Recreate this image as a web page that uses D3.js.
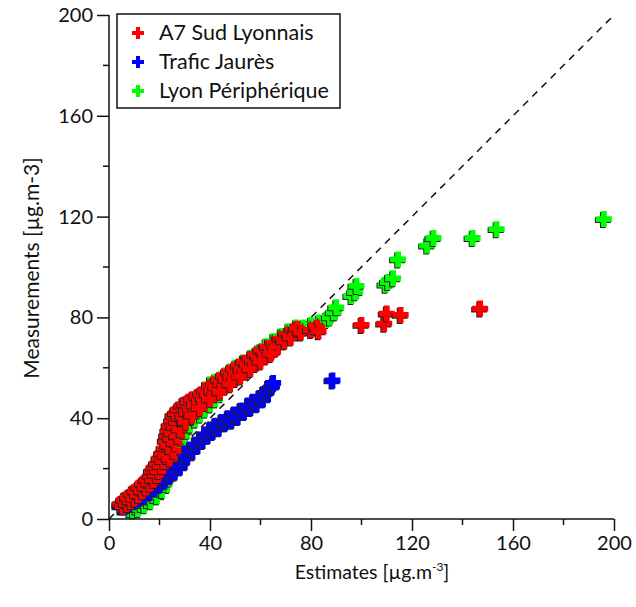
<!DOCTYPE html>
<html><head><meta charset="utf-8">
<script src="https://cdn.jsdelivr.net/npm/d3@7"></script>
<style>body{margin:0;background:#fff}svg{display:block}text{font-family:Lato,"Open Sans",sans-serif;fill:#111}</style>
</head><body>
<svg id="chart" width="636" height="607"></svg>
<script>
const seriesNames = ["A7 Sud Lyonnais", "Trafic Jaurès", "Lyon Périphérique"];
const seriesColors = ["#ff0000", "#0000ff", "#00ff00"];
const xTicks = [0, 40, 80, 120, 160, 200];
const yTicks = [0, 40, 80, 120, 160, 200];
const minorTicks = [20, 60, 100, 140, 180];

const a7Sud = [[4.5,6],[5.5,5],[6,7.5],[7,6],[7.5,8.5],[8.5,7],[9,10],[10,8],[10.5,11],[11.5,9.5],[12,12.5],[13,11],[13.5,14],[14.5,12.5],[15,15.5],[16,14],[16.5,17],[17,19],[17.5,15.5],[18,20.5],[18.5,17.5],[19,22],[19.5,19],[20,24],[20.5,21],[21,26],[21.5,23],[22,28],[22.5,25],[22.5,31],[23,33],[23.5,29],[23.5,35],[24,37],[24,24],[24.5,32],[25,39],[25,34],[25.5,27],[25.5,41],[26,30],[26,36.5],[26.5,42],[27,33],[27,38.5],[27.5,43.5],[28,35.5],[28,40],
[29,45],[30,45.5],[31.5,46.5],[33,47.5],[35,48.5],[36.5,49.5],[38,51],[40,52.5],[41.5,53.5],[43.5,55],[45.5,56.5],[47.5,58],[49.5,59],[51.5,60.5],[53.5,62],[56,63.5],[58,65],[60.5,66.5],[63,68],[65.5,69.5],[68,71.5],[70.5,73],[73,74.5],
[29.5,40.5],[31,42],[32.5,43.5],[34,45],[36,46.5],[37.5,48],[39,49.5],[41,50.5],[42.5,52],[44.5,53.5],[46.5,55],[48.5,56],[50.5,57.5],[52.5,59],[55,60.5],[57,62],[59.5,63.5],[62,65],[64.5,66.5],[67,68.5],[69.5,70.5],[72,72],
[30.5,38.5],[33,41],[36,44],[40,47.5],[44,50.5],[48,53.5],[52,56.5],[56,59.5],[60,62.5],[64,65.5],
[74.5,75.5],[76,74],[80,75],[82.5,76],[83,74.5],[100,77],[109,77.5],[110,81.5],[115.5,81],[147,83.5]];

const traficJaures = [[4.5,5],[5.5,6.5],[6.5,5],[7,7],[8,6],[9,8],[10,7],[11,9],[12,8],[13,10],[14,9],[15,11.5],[16,10.5],[17,13],[18,12],[19,14.5],[20,13.5],[21,16],[22,15],[23,18],[24,17],[25,19.5],[26,18.5],[27,21.5],[28,20.5],[29,23.5],[30,26],[31,24.5],[32,27.5],[33,27],[34,29.5],[35,29],[36,31.5],[37,31],[38,33.5],[39,33],[40,35.5],[41,34.5],[42,37],[43.5,36],[44.5,38.5],[46,38],[47,40],[48.5,39],[49.5,41.5],[51,40.5],[52,43],[53.5,42.5],[55,45],[56,44],[57,46.5],[58.5,45.5],[59.5,48],[61,47.5],[62,50],[63,51.5],[64.5,52.5],[65,54],[88.5,55]];

const lyonPeriph = [[8,4],[9.5,3.5],[10.5,5],[11.5,4],[12.5,6],[14,5.5],[15,7.5],[16.5,7],[17.5,9.5],[19,9],[20,12],[21,11.5],[22,14],[23,16],[24,18.5],[25,21],[26,24],[27,27],[28,30],[29,33],[30,35],[32,37.5],[34,39.5],[36,41.5],[38,43.5],[40,45.5],[42,47.5],[54,58.5],[56,60.5],[58,62],[60,64],[62,66],
[40,53.5],[42,54.5],[44,55.5],[46,57],[48,58.5],[50,60],[53,62],[56,64],[59,66],[62,68.5],[65,70.5],[68,72.5],[71,74.5],[74,76],[77,76],
[80,77],[83,78],[86,79],[87.5,80],[89,82],[90,84],[96,88.5],[97.5,90],[98,92.5],[109.5,93],[110.5,94],[112.5,95.5],[114.5,103],[126,108.5],[128.5,111.5],[144,111.5],[153.5,115],[196,119]];

const svg = d3.select("#chart");
const x = d3.scaleLinear().domain([0, 200]).range([109, 614]);
const y = d3.scaleLinear().domain([0, 200]).range([519, 15]);

function plusPath(h, t) {
  return `M${-t},${-h}H${t}V${-t}H${h}V${t}H${t}V${h}H${-t}V${t}H${-h}V${-t}H${-t}Z`;
}

// identity line
svg.append("line")
  .attr("x1", x(0)).attr("y1", y(0)).attr("x2", x(200)).attr("y2", y(200))
  .attr("stroke", "#111").attr("stroke-width", 1.5).attr("stroke-dasharray", "7,6");

// points: green, blue, red (red on top)
const order = [[lyonPeriph, 2], [traficJaures, 1], [a7Sud, 0]];
const P = plusPath(8, 2.9);
order.forEach(([data, i]) => {
  const g = svg.append("g");
  const m = g.selectAll("g").data(data).join("g")
    .attr("transform", d => `translate(${x(d[0])},${y(d[1])})`);
  m.append("path").attr("d", P).attr("transform", "translate(-1,1)").attr("fill", "#222");
  m.append("path").attr("d", P).attr("fill", seriesColors[i]);
});

// axes
const xAxis = d3.axisBottom(x).tickValues(xTicks).tickSize(12).tickPadding(5).tickFormat(d3.format("d"));
const yAxis = d3.axisLeft(y).tickValues(yTicks).tickSize(12).tickPadding(4).tickFormat(d3.format("d"));
const gx = svg.append("g").attr("transform", `translate(0,${y(0)})`).call(xAxis);
const gy = svg.append("g").attr("transform", `translate(${x(0)},0)`).call(yAxis);
gx.append("g").selectAll("line").data(minorTicks).join("line")
  .attr("x1", d => x(d)).attr("x2", d => x(d)).attr("y1", 0).attr("y2", 6);
gy.append("g").selectAll("line").data(minorTicks).join("line")
  .attr("y1", d => y(d)).attr("y2", d => y(d)).attr("x1", 0).attr("x2", -6);
[gx, gy].forEach(g => {
  g.selectAll("line").attr("stroke", "#111").attr("stroke-width", 1.5);
  g.selectAll("text").attr("font-family", "Lato, sans-serif").attr("font-size", 20).attr("fill", "#111");
});
gx.select(".domain").remove();
gy.select(".domain").remove();
svg.append("line").attr("x1", x(0)).attr("x2", x(200)).attr("y1", y(0)).attr("y2", y(0)).attr("stroke", "#111").attr("stroke-width", 1.5);
svg.append("line").attr("x1", x(0)).attr("x2", x(0)).attr("y1", y(0)).attr("y2", y(200)).attr("stroke", "#111").attr("stroke-width", 1.5);

// axis titles
const xt = svg.append("text").attr("x", 372).attr("y", 579).attr("text-anchor", "middle").attr("font-size", 19.5);
xt.append("tspan").text("Estimates [µg.m");
xt.append("tspan").attr("dy", -8).attr("font-size", 12).text("-3");
xt.append("tspan").attr("dy", 8).text("]");
svg.append("text").attr("transform", "translate(39,268) rotate(-90)").attr("text-anchor", "middle")
  .attr("font-size", 21).text("Measurements [µg.m-3]");

// legend
const lg = svg.append("g");
lg.append("rect").attr("x", 117).attr("y", 14).attr("width", 223).attr("height", 94)
  .attr("fill", "#fff").attr("stroke", "#111").attr("stroke-width", 1.5);
const LP = plusPath(6, 2);
seriesNames.forEach((n, i) => {
  const cy = 33 + i * 29;
  lg.append("path").attr("d", LP).attr("transform", `translate(138,${cy})`).attr("fill", seriesColors[i]);
  lg.append("text").attr("x", 159).attr("y", cy + 7).attr("font-size", 21.5).text(n);
});
</script>
</body></html>
